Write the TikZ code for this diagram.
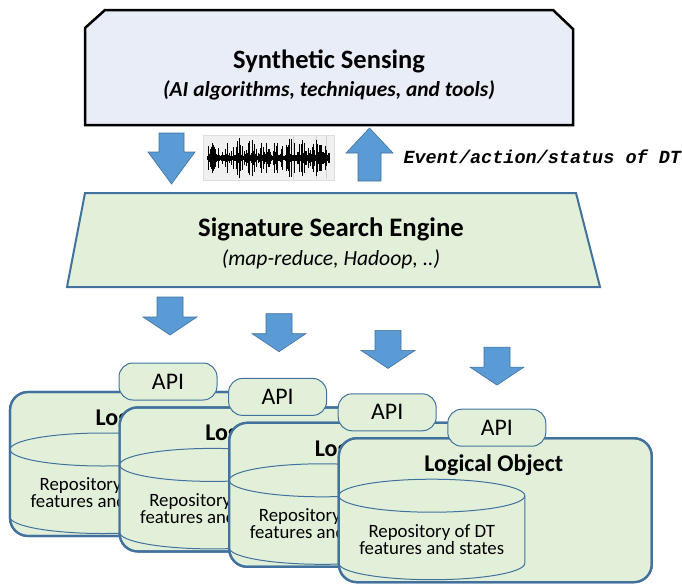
\documentclass[tikz,border=0pt]{standalone}
\usepackage{fontspec}
\setmainfont{Carlito}
\newfontfamily\monofont{Liberation Mono}
\usepackage{tikz}

\definecolor{lightgreen}{HTML}{E2F0D9}
\definecolor{boxblue}{HTML}{41719C}
\definecolor{arrowblue}{HTML}{5B9BD5}
\definecolor{lavender}{HTML}{E9EDF7}

\tikzset{
  topbox/.style={draw=black, line width=2.5pt, fill=lavender},
  enginebox/.style={draw=boxblue, line width=2pt, fill=lightgreen},
  lobox/.style={draw=boxblue, line width=2.2pt, fill=lightgreen, rounded corners=18pt},
  cyl/.style={draw=boxblue, line width=1pt, fill=lightgreen},
  apibox/.style={draw=boxblue, line width=1pt, fill=lightgreen, rounded corners=14pt},
  blkarrow/.style={draw=boxblue, line width=0.6pt, fill=arrowblue},
}

\begin{document}
\begin{tikzpicture}[x=1pt,y=1pt]
\useasboundingbox (0,0) rectangle (682,-584);
%\draw[help lines,step=50] (0,0) grid (682,-584);
% synthetic sensing
\draw[topbox] (105,-10) -- (553,-10) -- (573,-29) -- (573,-125) -- (85,-125) -- (85,-28) -- cycle;
\node (sens) at (329,-61) {\fontsize{26.5}{30}\selectfont\bfseries Synthetic Sensing};
\node (senssub) at (329,-90) {\fontsize{21.4}{25}\selectfont\bfseries\itshape (AI algorithms, techniques, and tools)};
% arrows and signal
\draw[blkarrow] (159,-133) -- (184,-133) -- (184,-152) -- (195,-152) -- (171.5,-184) -- (148,-152) -- (159,-152) -- cycle;
\draw[blkarrow] (358,-181) -- (381,-181) -- (381,-153) -- (393,-153) -- (369.5,-128) -- (346,-153) -- (358,-153) -- cycle;
\draw[fill=gray!12, draw=gray!25] (203,-135) rectangle (334,-180);
\draw[gray!35] (293,-136) -- (293,-179) (316,-136) -- (316,-179) (326,-136) -- (326,-179);
\pgfmathsetseed{42}
\foreach \k in {0,...,245} {
  \pgfmathsetmacro\wa{(3+17*rnd^3)*(0.45+0.55*abs(sin(\k*7)))}
  \draw[line width=0.6pt] ({207+0.5*\k},{-158+\wa}) -- ({207+0.5*\k},{-158-\wa});
}
\node (status) [anchor=west] at (400,-157) {\monofont\bfseries\itshape\fontsize{18.5}{22}\selectfont Event/action/status of DT};
% search engine
\draw[enginebox] (85,-193) -- (576,-193) -- (600,-287) -- (67,-287) -- cycle;
\node (engine) at (331,-229) {\fontsize{26.7}{30}\selectfont\bfseries Signature Search Engine};
\node (enginesub) at (331,-259) {\fontsize{21.6}{25}\selectfont\itshape (map-reduce, Hadoop, ..)};
% logical objects
\foreach \i in {0,...,3} {
  \pgfmathsetmacro\lx{10+109.6*\i}
  \pgfmathsetmacro\ly{-392-15.4*\i}
  \draw[lobox] (\lx,\ly) rectangle ++(313,-144);
  \draw[cyl] (\lx,\ly-57.5) -- (\lx,\ly-125) arc[start angle=180,end angle=360,x radius=93,y radius=16.5]
    -- (\lx+186,\ly-57.5) arc[start angle=0,end angle=180,x radius=93,y radius=16.5] -- cycle;
  \draw[cyl, fill=none] (\lx,\ly-57.5) arc[start angle=180,end angle=360,x radius=93,y radius=16.5];
  \draw[lobox, fill=none] (\lx,\ly) rectangle ++(313,-144);
  \node (lo\i) at (\lx+155,\ly-27) {\fontsize{24}{28}\selectfont\bfseries Logical Object};
  \node (rep\i) [align=center] at (\lx+93,\ly-101) {\fontsize{18.8}{22}\selectfont Repository of DT\\ \fontsize{18.8}{22}\selectfont features and states};
  \draw[apibox] (\lx+109,\ly+29) rectangle ++(98,-37);
  \node (api\i) at (\lx+158,\ly+10.5) {\fontsize{23.8}{28}\selectfont API};
}
\foreach \i in {0,...,3}
  \draw[blkarrow] ({157+109*\i},{-297-16.7*\i}) -- ++(26,0) -- ++(0,-20) -- ++(14,0) -- ++(-27,-18) -- ++(-27,18) -- ++(14,0) -- cycle;
\end{tikzpicture}
\end{document}
